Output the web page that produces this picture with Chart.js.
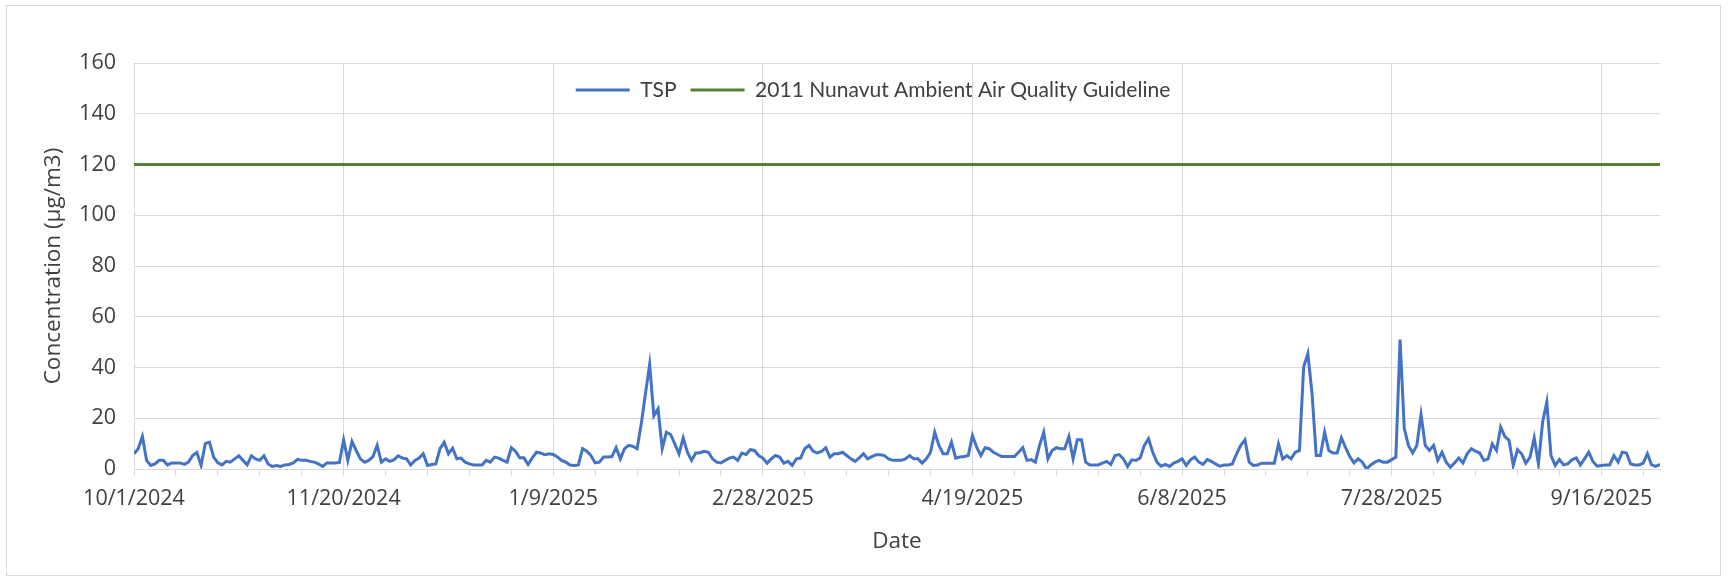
<!DOCTYPE html>
<html><head><meta charset="utf-8">
<script src="https://cdn.jsdelivr.net/npm/chart.js@4/dist/chart.umd.min.js"></script>
<style>
html,body{margin:0;padding:0;background:#fff;}
#wrap{position:relative;width:1730px;height:579px;}
#frame{position:absolute;left:6px;top:5px;width:1715px;height:571px;border:1px solid #d9d9d9;box-sizing:border-box;}
canvas{position:absolute;left:0;top:0;}
</style></head><body>
<div id="wrap"><div id="frame"></div><canvas id="c" width="1730" height="579"></canvas></div>
<script>
// Daily series starting 10/1/2024 (day index 0) through 9/30/2025
const startDate = '10/1/2024';
const xTickLabels = ['10/1/2024','11/20/2024','1/9/2025','2/28/2025','4/19/2025','6/8/2025','7/28/2025','9/16/2025'];
const yTickValues = [0,20,40,60,80,100,120,140,160];
const seriesNames = ['TSP','2011 Nunavut Ambient Air Quality Guideline'];
const guidelineValue = 120;
const tspValues = [
  6,8,12.8,3.4,1.4,2,3.4,3.4,1.6,2.4,
  2.4,2.4,1.8,2.7,5.3,6.5,1.4,10,10.6,4.7,
  2.4,1.6,3,2.7,4,5.2,3.4,1.6,5.2,4,
  3.4,5.2,2,1,1.4,1,1.6,1.8,2.4,3.8,
  3.4,3.4,3,2.7,2,1,2.4,2.4,2.4,2.6,
  11.5,3.4,10.9,7.3,4,2.7,3.4,4.9,9.3,2.7,
  4,3,3.6,5.2,4.3,4,1.6,3.4,4.3,6,
  1.4,1.8,2,8,10.5,6,8.2,4,4.3,2.7,
  2,1.6,1.6,1.6,3.4,2.7,4.7,4.3,3.4,2.7,
  8.4,7,4.4,4.4,1.8,4.4,6.6,6.3,5.6,6,
  5.7,4.7,3.4,2.7,1.6,1.4,1.6,8,7,5.3,
  2.4,2.7,4.7,4.7,4.9,8.4,4,8,9.3,8.9,
  8,17.8,29.7,41.2,21,23.7,8,14.5,13.6,9.9,
  6,12.3,6.6,3.4,6.3,6.4,7,6.6,4,2.7,
  2.4,3.4,4.3,4.7,3.4,6.3,5.7,7.6,7.3,5.3,
  4.3,2.3,4,5.3,4.7,2.3,3,1.4,4,4.3,
  8,9.3,7,6.3,6.9,8.4,4.7,6,6,6.6,
  5.3,4,3,4.4,6,4,4.9,5.6,5.6,5.3,
  4,3.4,3.4,3.4,4,5.3,4,4,2.3,4,
  6.6,14.5,9.3,6,6,10.6,4.3,4.7,4.9,5.3,
  13.2,8.6,5.3,8.4,8,6.6,5.7,4.9,4.9,4.9,
  4.9,6.6,8.4,3.4,3.7,2.7,9.3,14.5,4,7.3,
  8.4,8,8,12.8,4,11.5,11.5,2.7,1.6,1.6,
  1.6,2.3,3,1.8,5.3,5.7,4,1,3.6,3.4,
  4.3,9.3,11.9,6.6,2.7,1.1,1.8,1,2.3,3,
  4,1.4,3.6,4.7,2.7,1.8,3.7,3,2,1.1,
  1.6,1.6,2,6,9.3,11.5,2.7,1.4,1.6,2.3,
  2.3,2.3,2.3,9.9,4,5.3,4,6.6,7.3,40.2,
  45.5,29.7,5.3,5.3,14.5,7.3,6.3,6.3,12.3,8.4,
  4.9,2.4,4,2.7,0,1.6,2.7,3.4,2.7,2.7,
  3.7,4.7,51,15.9,9.3,6.3,9.3,21.5,9.3,7.3,
  9.3,3.4,6.6,2.7,0.7,2.4,4.3,2.4,6,8,
  7,6.3,3.4,4,9.9,7.3,16.5,12.8,11.3,1.4,
  7.6,6,2.3,4.7,12.3,2,18.5,26.4,5.3,1.4,
  3.7,1.6,2,3.6,4.4,1.6,4,6.6,3,1.1,
  1.4,1.6,1.6,5.3,2.7,6.6,6.3,2,1.6,1.6,
  2.3,6,1.6,1,1.8
];

const lastDay = tspValues.length - 1;
const gridColor = '#d9d9d9';
const textColor = '#404040';

// Place the legend inside the plot area, near its top (as in the reference).
const legendInside = {
  id: 'legendInside',
  afterLayout(chart) {
    const lg = chart.legend;
    if (!lg) return;
    const h = lg.bottom - lg.top;
    const w = lg.right - lg.left;
    const cx = 873;
    lg.left = cx - w / 2; lg.right = cx + w / 2;
    lg.top = 65.5; lg.bottom = lg.top + h;
  }
};

new Chart(document.getElementById('c'), {
  type: 'line',
  data: {
    datasets: [
      {
        label: seriesNames[0],
        data: tspValues.map((v, i) => ({x: i, y: v})),
        borderColor: '#4472C4',
        backgroundColor: '#4472C4',
        borderWidth: 3,
        pointRadius: 0,
        tension: 0
      },
      {
        label: seriesNames[1],
        data: [{x: 0, y: guidelineValue}, {x: lastDay, y: guidelineValue}],
        borderColor: '#548235',
        backgroundColor: '#548235',
        borderWidth: 3,
        pointRadius: 0,
        tension: 0
      }
    ]
  },
  options: {
    responsive: false,
    animation: false,
    devicePixelRatio: 1,
    layout: { padding: { left: 36, right: 70, top: 18, bottom: 20 } },
    plugins: {
      tooltip: { enabled: false },
      legend: {
        position: 'top',
        align: 'center',
        labels: {
          font: { family: 'Lato', size: 21 },
          color: textColor,
          boxWidth: 54,
          boxHeight: 3,
          padding: 14,
          generateLabels: (chart) => Chart.defaults.plugins.legend.labels.generateLabels(chart).map(l => Object.assign(l, {lineWidth: 0}))
        }
      }
    },
    scales: {
      x: {
        type: 'linear',
        min: 0,
        max: lastDay,
        afterBuildTicks: (s) => {
          const t = [];
          for (let v = 0; v <= lastDay; v += 10) t.push({value: v});
          s.ticks = t;
        },
        afterFit: (s) => { s.height = 90; },
        ticks: {
          autoSkip: false,
          maxRotation: 0,
          padding: 10,
          color: textColor,
          font: { family: 'Open Sans', size: 21.5 },
          callback: (v) => (v % 50 === 0 ? xTickLabels[v / 50] : '')
        },
        grid: {
          color: (ctx) => (ctx.tick && ctx.tick.value % 50 === 0) ? gridColor : 'rgba(0,0,0,0)',
          tickColor: gridColor,
          tickLength: 7,
          lineWidth: 1
        },
        border: { color: gridColor },
        title: {
          display: true,
          text: 'Date',
          color: textColor,
          font: { family: 'Open Sans', size: 22.5 },
          padding: { top: 4, bottom: 4 }
        }
      },
      y: {
        min: yTickValues[0],
        max: yTickValues[yTickValues.length - 1],
        afterBuildTicks: (s) => { s.ticks = yTickValues.map(v => ({value: v})); },
        afterFit: (s) => { s.width = 98; },
        ticks: {
          padding: 18,
          color: textColor,
          font: { family: 'Open Sans', size: 21.5 }
        },
        grid: { color: gridColor, drawTicks: false, lineWidth: 1 },
        border: { color: gridColor },
        title: {
          display: true,
          text: 'Concentration (µg/m3)',
          color: textColor,
          font: { family: 'Open Sans', size: 22.5 },
          padding: { top: 4, bottom: 4 }
        }
      }
    }
  },
  plugins: [legendInside]
});
</script>
</body></html>
